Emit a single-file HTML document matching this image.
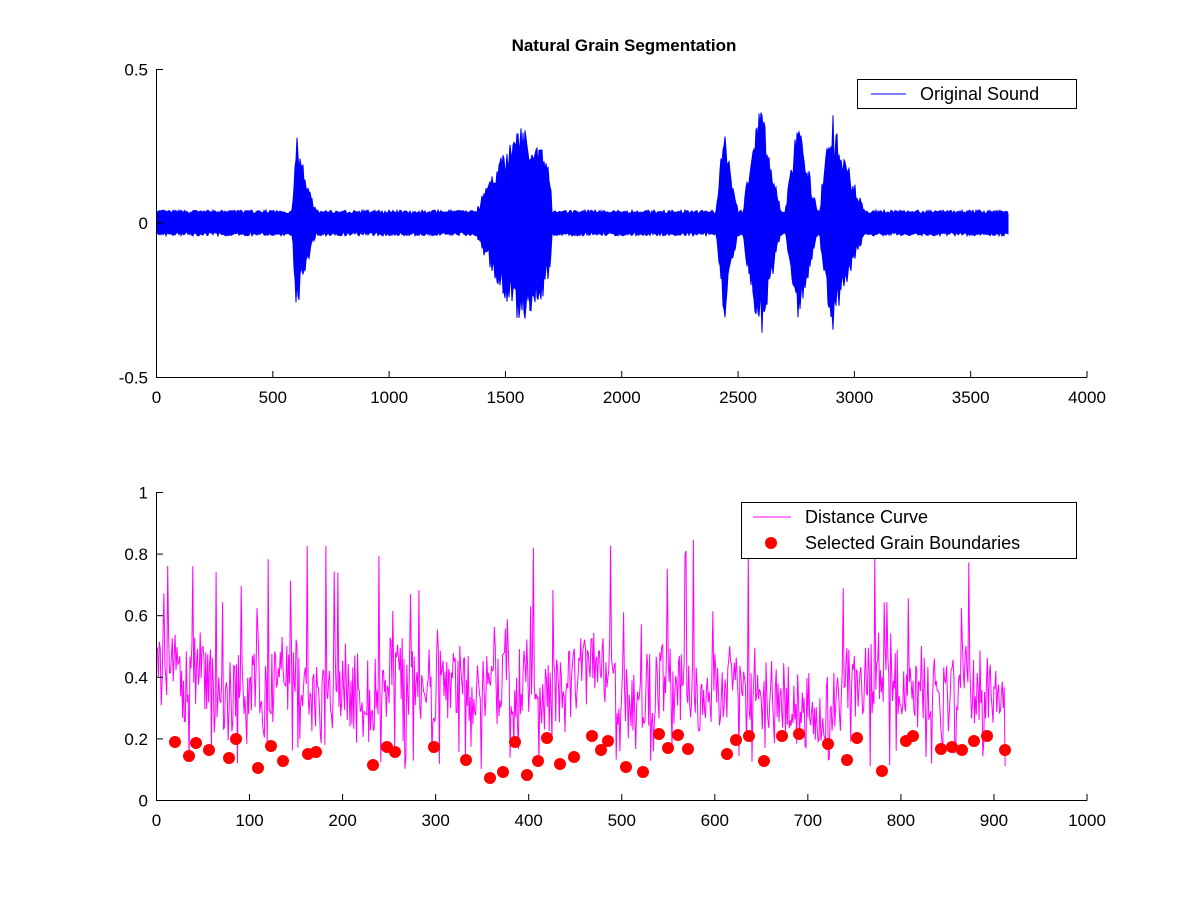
<!DOCTYPE html>
<html><head><meta charset="utf-8"><style>
body{margin:0;background:#fff;}
svg{display:block;font-family:"Liberation Sans",Arial,sans-serif;}
</style></head><body>
<svg id="s" width="1201" height="900" xmlns="http://www.w3.org/2000/svg">
<rect width="1201" height="900" fill="#fff"/>
<text x="624" y="51" font-size="17" font-weight="bold" text-anchor="middle">Natural Grain Segmentation</text>
<g id="gtop"></g>
<g id="gbot"></g>
<g stroke="#000" stroke-width="1" fill="none">
<path d="M156.5 69V377.5H1087"/>
<path d="M156.5 492V800.5H1087"/>
</g>
<g id="ticks" stroke="#000" stroke-width="1"></g>
<g id="labels" font-size="17" fill="#000"></g>
<rect x="857.5" y="79.5" width="219" height="29" fill="#fff" stroke="#000"/>
<line x1="871" y1="94" x2="906" y2="94" stroke="#00f"/>
<text x="920" y="100" font-size="18">Original Sound</text>
<rect x="741.5" y="502.5" width="335" height="56" fill="#fff" stroke="#000"/>
<line x1="753" y1="517" x2="791" y2="517" stroke="#f0f"/>
<circle cx="771" cy="543" r="6" fill="#f00"/>
<text x="805" y="523" font-size="18">Distance Curve</text>
<text x="805" y="549" font-size="18">Selected Grain Boundaries</text>
</svg>
<script>
(function(){
var seed=7;function r(){seed=(seed*16807)%2147483647;return seed/2147483647;}
var NS="http://www.w3.org/2000/svg";
function el(p,t,a,txt){var e=document.createElementNS(NS,t);for(var k in a)e.setAttribute(k,a[k]);if(txt!=null)e.textContent=txt;document.getElementById(p).appendChild(e);return e;}
var X0=156.5,W=930.5;
for(var i=0;i<=8;i++){var x=X0+W*i/8;el("ticks","line",{x1:x,y1:377.5,x2:x,y2:371});el("labels","text",{x:x,y:403,"text-anchor":"middle"},String(i*500));}
[[0.5,69.5],[0,223],[-0.5,377.5]].forEach(function(t){el("ticks","line",{x1:156.5,y1:t[1],x2:163,y2:t[1]});el("labels","text",{x:148,y:t[1]+6,"text-anchor":"end"},String(t[0]));});
for(var i=0;i<=10;i++){var x=X0+W*i/10;el("ticks","line",{x1:x,y1:800.5,x2:x,y2:794});el("labels","text",{x:x,y:826,"text-anchor":"middle"},String(i*100));}
for(var i=0;i<=5;i++){var y=800.5-i*0.2*308;el("ticks","line",{x1:156.5,y1:y,x2:163,y2:y});el("labels","text",{x:148,y:y+6,"text-anchor":"end"},i==0?"0":i==5?"1":(i*0.2).toFixed(1));}
function env(t){var a=0;
 function b(c,s,e,amp,att,dec){ if(t<s||t>e)return 0; if(t<c) return amp*Math.pow((t-s)/(c-s),att); return amp*Math.pow(Math.max(0,(e-t)/(e-c)),dec);}
 a=Math.max(a,b(600,575,720,0.27,1.5,1.5));
 a=Math.max(a,b(1560,1360,1700,0.30,0.8,0.25));
 a=Math.max(a,b(2440,2400,2520,0.3,1,1.5));
 a=Math.max(a,b(2600,2520,2700,0.36,0.7,1.2));
 a=Math.max(a,b(2760,2700,2860,0.32,0.8,1.2));
 a=Math.max(a,b(2900,2850,3080,0.34,0.7,1.3));
 return a;}
var tp=[],bt=[];
for(var px=157;px<=1008;px++){var t=(px-156.5)/W*4000;var a=env(t);
 var base=0.03;
 var u=Math.max(base+0.012*r(),a*(0.7+0.4*r())),d=Math.max(base+0.012*r(),a*(0.7+0.4*r()));
 tp.push(px+","+(223-u*308).toFixed(1));bt.push(px+","+(223+d*308).toFixed(1));}
el("gtop","polygon",{points:tp.concat(bt.reverse()).join(" "),fill:"#00f",stroke:"#00f","stroke-width":"1"});
var pts=[],v=0.35,m=0.35;for(var i=0;i<=912;i++){
 m+= (0.37-m)*0.05+(r()-0.5)*0.04;
 v=m+(r()-0.5)*0.25;
 if(r()<0.06)v=0.55+0.3*r();
 if(r()<0.05)v=0.1+0.1*r();
 v=Math.min(0.92,Math.max(0.08,v));
 pts.push((X0+W*i/1000).toFixed(1)+","+(800.5-v*308).toFixed(1));}
el("gbot","polyline",{points:pts.join(" "),fill:"none",stroke:"#f0f","stroke-width":"1"});
var dots=[[175,742],[189,756],[196,743],[209,750],[229,758],[236,739],[258,768],[271,746],[283,761],[308,754],[316,752],[373,765],[387,747],[395,752],[434,747],[466,760],[490,778],[503,772],[515,742],[527,775],[538,761],[547,738],[560,764],[574,757],[592,736],[601,750],[608,741],[626,767],[643,772],[659,734],[668,748],[678,735],[688,749],[727,754],[736,740],[749,736],[764,761],[782,736],[799,734],[828,744],[847,760],[857,738],[882,771],[906,741],[913,736],[941,749],[952,747],[962,750],[974,741],[987,736],[1005,750]];
dots.forEach(function(d){el("gbot","circle",{cx:d[0],cy:d[1],r:6,fill:"#f00"});});
})();
</script>
</body></html>
